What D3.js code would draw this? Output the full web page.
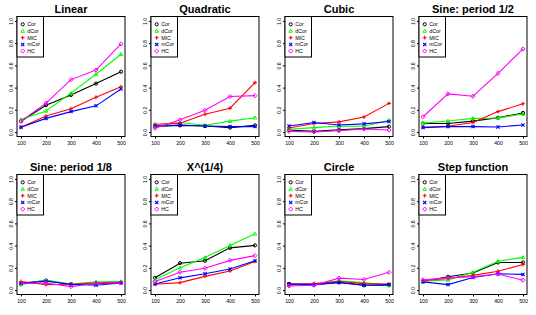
<!DOCTYPE html>
<html>
<head>
<meta charset="utf-8">
<script src="https://cdn.jsdelivr.net/npm/d3@7"></script>
<style>
  body { margin: 0; background: #fff; }
  svg { display: block; font-family: "Liberation Sans", Arial, sans-serif; }
  .tick line { stroke: #000; }
  .tick text { fill: #000; font-size: 5.2px; }
</style>
</head>
<body>
<div id="chart"></div>
<script>
const sampleSizes = [100, 200, 300, 400, 500];
const seriesNames = ["Cor", "dCor", "MIC", "mCor", "HC"];
const seriesColors = ["#000000", "#00ff00", "#ff0000", "#0000ff", "#ff00ff"];
const yTicks = [0, 0.2, 0.4, 0.6, 0.8, 1.0];
const titles = ["Linear", "Quadratic", "Cubic", "Sine: period 1/2",
  "Sine: period 1/8", "X^(1/4)", "Circle", "Step function"];

// rows in series order: Cor, dCor, MIC, mCor, HC
const linear = [
  [0.098, 0.242, 0.334, 0.436, 0.543],
  [0.113, 0.19, 0.35, 0.52, 0.70],
  [0.043, 0.144, 0.21, 0.313, 0.408],
  [0.043, 0.123, 0.184, 0.236, 0.387],
  [0.098, 0.26, 0.472, 0.558, 0.794]
];
const quadratic = [
  [0.05, 0.06, 0.055, 0.04, 0.06],
  [0.052, 0.086, 0.061, 0.098, 0.129],
  [0.07, 0.08, 0.16, 0.215, 0.445],
  [0.055, 0.064, 0.055, 0.049, 0.049],
  [0.034, 0.11, 0.196, 0.32, 0.328]
];
const cubic = [
  [0.018, 0.006, 0.021, 0.031, 0.049],
  [0.025, 0.04, 0.055, 0.052, 0.107],
  [0.037, 0.077, 0.092, 0.135, 0.258],
  [0.055, 0.086, 0.064, 0.074, 0.095],
  [0.006, 0.0, 0.012, 0.028, 0.018]
];
const sineHalf = [
  [0.077, 0.077, 0.098, 0.129, 0.172],
  [0.08, 0.10, 0.123, 0.126, 0.163],
  [0.043, 0.052, 0.086, 0.184, 0.255],
  [0.04, 0.049, 0.049, 0.046, 0.064],
  [0.138, 0.344, 0.322, 0.528, 0.748]
];
const sineEighth = [
  [0.061, 0.086, 0.049, 0.058, 0.067],
  [0.049, 0.089, 0.055, 0.074, 0.077],
  [0.077, 0.049, 0.052, 0.064, 0.07],
  [0.058, 0.08, 0.052, 0.043, 0.064],
  [0.061, 0.064, 0.031, 0.061, 0.064]
];
const quarterRoot = [
  [0.11, 0.242, 0.264, 0.38, 0.402],
  [0.092, 0.2, 0.294, 0.402, 0.506],
  [0.052, 0.067, 0.123, 0.172, 0.258],
  [0.055, 0.11, 0.147, 0.19, 0.264],
  [0.077, 0.16, 0.196, 0.267, 0.31]
];
const circle = [
  [0.055, 0.049, 0.07, 0.043, 0.043],
  [0.043, 0.055, 0.083, 0.067, 0.043],
  [0.049, 0.058, 0.077, 0.058, 0.055],
  [0.055, 0.049, 0.067, 0.043, 0.049],
  [0.037, 0.043, 0.107, 0.095, 0.16]
];
const stepFunction = [
  [0.077, 0.12, 0.153, 0.248, 0.248],
  [0.08, 0.092, 0.16, 0.26, 0.294],
  [0.086, 0.104, 0.132, 0.169, 0.23],
  [0.074, 0.049, 0.113, 0.147, 0.141],
  [0.092, 0.11, 0.12, 0.144, 0.089]
];

const panelValues = [linear, quadratic, cubic, sineHalf,
  sineEighth, quarterRoot, circle, stepFunction];

let w = 536;
let h = 315;
let panelW = 134;
let panelH = 158;
let boxLeft = 17;
let boxTop = 16.5;
let boxW = 108;
let boxH = 120;

let svg = d3.select("#chart").append("svg")
  .attr("width", w)
  .attr("height", h);

svg.append("rect").attr("width", w).attr("height", h).attr("fill", "#fff");

// R-style 4% padding around the data range
let x = d3.scaleLinear()
  .domain([100 - 16, 500 + 16])
  .range([boxLeft, boxLeft + boxW]);
let y = d3.scaleLinear()
  .domain([-0.04, 1.04])
  .range([boxTop + boxH, boxTop]);

function marker(g, i, color) {
  let s = 1.6;
  if (i === 0) {
    g.append("circle").attr("r", s).attr("fill", "none").attr("stroke", color).attr("stroke-width", 1);
  } else if (i === 1) {
    g.append("path").attr("d", `M0,${-s * 1.1}L${s * 1.1},${s * 0.8}L${-s * 1.1},${s * 0.8}Z`)
      .attr("fill", "none").attr("stroke", color).attr("stroke-width", 1);
  } else if (i === 2) {
    g.append("path").attr("d", `M${-s * 1.2},0H${s * 1.2}M0,${-s * 1.2}V${s * 1.2}`)
      .attr("stroke", color).attr("stroke-width", 1.1);
  } else if (i === 3) {
    g.append("path").attr("d", `M${-s},${-s}L${s},${s}M${-s},${s}L${s},${-s}`)
      .attr("stroke", color).attr("stroke-width", 1.1);
  } else {
    g.append("path").attr("d", `M0,${-s * 1.3}L${s * 1.3},0L0,${s * 1.3}L${-s * 1.3},0Z`)
      .attr("fill", "none").attr("stroke", color).attr("stroke-width", 1);
  }
}

panelValues.forEach(function (values, p) {
  let col = p % 4;
  let row = Math.floor(p / 4);
  let g = svg.append("g")
    .attr("transform", `translate(${col * panelW},${row * panelH})`);

  g.append("text")
    .attr("x", boxLeft + boxW / 2)
    .attr("y", 12.8)
    .attr("text-anchor", "middle")
    .attr("font-size", "11px")
    .attr("font-weight", "bold")
    .text(titles[p]);

  let yAxis = g.append("g")
    .attr("transform", `translate(${boxLeft},0)`)
    .call(d3.axisLeft(y).tickValues(yTicks).tickSize(2).tickFormat(d3.format(".1f")));
  yAxis.select(".domain").remove();
  yAxis.selectAll(".tick text")
    .attr("x", 0)
    .attr("y", -4.3)
    .attr("dy", null)
    .attr("text-anchor", "middle")
    .attr("transform", "rotate(-90)");

  let xAxis = g.append("g")
    .attr("transform", `translate(0,${boxTop + boxH})`)
    .call(d3.axisBottom(x).tickValues(sampleSizes).tickSize(2).tickFormat(d3.format("d")));
  xAxis.select(".domain").remove();
  xAxis.selectAll(".tick text").attr("y", 4.8).attr("dy", null).attr("dominant-baseline", "hanging");

  let line = d3.line()
    .x(function (d, i) { return x(sampleSizes[i]); })
    .y(function (d) { return y(d); });

  values.forEach(function (series, s) {
    g.append("path")
      .attr("d", line(series))
      .attr("fill", "none")
      .attr("stroke", seriesColors[s])
      .attr("stroke-width", 1.1);
    series.forEach(function (v, i) {
      let m = g.append("g").attr("transform", `translate(${x(sampleSizes[i])},${y(v)})`);
      marker(m, s, seriesColors[s]);
    });
  });

  g.append("rect")
    .attr("x", boxLeft)
    .attr("y", boxTop)
    .attr("width", boxW)
    .attr("height", boxH)
    .attr("fill", "none")
    .attr("stroke", "#000")
    .attr("stroke-width", 1);

  // legend, top left
  let legend = g.append("g").attr("transform", `translate(${boxLeft},${boxTop})`);
  legend.append("rect")
    .attr("width", 26.5)
    .attr("height", 40.5)
    .attr("fill", "#fff")
    .attr("stroke", "#000")
    .attr("stroke-width", 1);
  seriesNames.forEach(function (name, s) {
    let ly = 7.8 + s * 6.7;
    let m = legend.append("g").attr("transform", `translate(5.7,${ly})`);
    marker(m, s, seriesColors[s]);
    legend.append("text")
      .attr("x", 10.2)
      .attr("y", ly + 1.9)
      .attr("font-size", "5.3px")
      .text(name);
  });
});
</script>
</body>
</html>
